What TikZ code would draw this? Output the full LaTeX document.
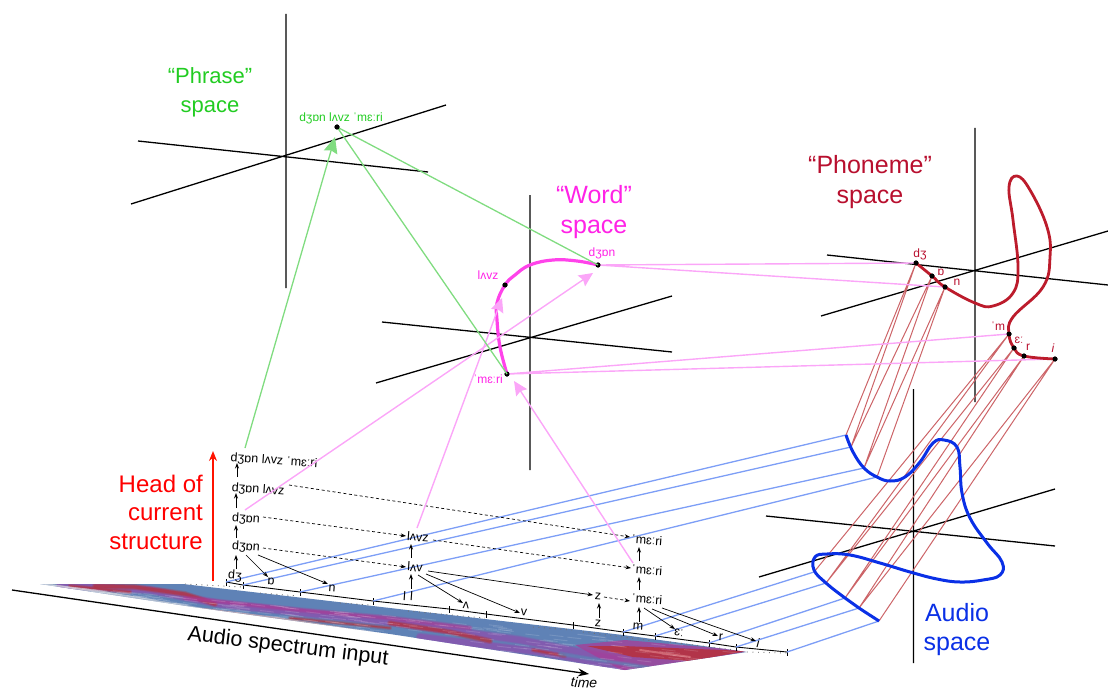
\documentclass[tikz,border=0pt]{standalone}
\usepackage{fontspec}
\setmainfont{Liberation Sans}
\usetikzlibrary{arrows.meta,calc}
\definecolor{cgreen}{HTML}{22CC22}
\definecolor{lgreen}{HTML}{80DC80}
\definecolor{cmag}{HTML}{FF22E6}
\definecolor{lmag}{HTML}{FBA6F8}
\definecolor{ccrim}{HTML}{B80F2E}
\definecolor{ccurve}{HTML}{BC1C2C}
\definecolor{lred}{HTML}{CC6468}
\definecolor{cblue}{HTML}{0A30E6}
\definecolor{lblue}{HTML}{7D9EF6}
\definecolor{sblue}{HTML}{5F82B6}
\definecolor{spur}{HTML}{8C50AE}
\definecolor{sred}{HTML}{B8303A}
\definecolor{smag}{HTML}{A83C98}
\tikzset{
  axisline/.style={line width=1.3pt,black},
  biglabel/.style={font=\fontsize{25}{29.5}\selectfont,align=center,inner sep=0pt},
  smalllabel/.style={font=\fontsize{12}{14}\selectfont,inner sep=0pt},
  tree/.style={font=\fontsize{12.5}{14}\selectfont,inner sep=0pt,rotate=-4},
  up/.style={line width=.7pt,-{Stealth[length=5.5pt,width=4pt]}},
  dashdown/.style={line width=.7pt,dash pattern=on 3pt off 2.5pt,-{Stealth[length=5.5pt,width=4pt]}},
  ptdot/.style={circle,fill=black,inner sep=0pt,minimum size=5pt},
  pinkline/.style={lmag,line width=1.4pt},
  pinkarrow/.style={lmag,line width=1.4pt,-{Stealth[length=14pt,width=13pt,inset=2pt]}},
  greenline/.style={lgreen,line width=1.3pt},
  blueline/.style={lblue,line width=1.3pt},
  redline/.style={lred,line width=1pt},
  tickmark/.style={line width=.8pt,black},
  dots/.style={line width=.9pt,dash pattern=on .9pt off 4.6pt,black!55},
  band/.style={line cap=round,line join=round},
}
\newcommand{\sband}[3]{\draw[band,#1,line width=#2+3pt,opacity=.25] #3;\draw[band,#1,line width=#2+1.5pt,opacity=.3] #3;\draw[band,#1,line width=#2,opacity=.55] #3;}
\begin{document}
\begin{tikzpicture}[x=1pt,y=-1pt]
\useasboundingbox (0,0) rectangle (1108,690);

% --- axes ---
\coordinate (p1a) at (286,14);\coordinate (p1b) at (286,288);
\coordinate (p2a) at (138,141);\coordinate (p2b) at (428,172);
\coordinate (p3a) at (131,204);\coordinate (p3b) at (446,105);
\draw[axisline] (p1a)--(p1b) (p2a)--(p2b) (p3a)--(p3b);
\coordinate (w1a) at (530,195);\coordinate (w1b) at (530,470);
\coordinate (w2a) at (382,322);\coordinate (w2b) at (672,352);
\coordinate (w3a) at (376,383);\coordinate (w3b) at (672,296);
\draw[axisline] (w1a)--(w1b) (w2a)--(w2b) (w3a)--(w3b);
\coordinate (f1a) at (975,128);\coordinate (f1b) at (975,402);
\coordinate (f2a) at (827,255);\coordinate (f2b) at (1108,285);
\coordinate (f3a) at (821,316);\coordinate (f3b) at (1108,231);
\draw[axisline] (f1a)--(f1b) (f2a)--(f2b) (f3a)--(f3b);
\coordinate (a1a) at (913.5,389);\coordinate (a1b) at (913.5,663);
\coordinate (a2a) at (766,516);\coordinate (a2b) at (1055,546);
\coordinate (a3a) at (759,577);\coordinate (a3b) at (1055,489);
\draw[axisline] (a1a)--(a1b) (a2a)--(a2b) (a3a)--(a3b);

% --- spectrum ---
\begin{scope}
\clip (40,584) -- (183,584) -- (390,608) -- (623,635) -- (747,652) -- (625,670) -- (390,634) -- (193,607) -- cycle;
\fill[sblue] (30,580) rectangle (750,675);
\sband{spur}{6pt}{(60,585) -- (150,590) -- (220,604) -- (390,622) -- (520,640) -- (620,660)}
\sband{spur}{6pt}{(420,637) -- (540,652) -- (625,668)}
\sband{sred}{3pt}{(95,586) -- (135,587) -- (185,594) -- (215,604)}
\sband{sred}{1.5pt}{(70,586) -- (130,592)}
\sband{sred}{1pt}{(290,618) -- (390,628)}
\sband{sred}{3pt}{(390,623) -- (450,632) -- (490,641)}
\sband{sred}{1.5pt}{(533,650) -- (565,656)}
\sband{smag}{2.5pt}{(185,598) -- (300,610) -- (390,618) -- (470,628)}
\fill[smag,opacity=.75] (575,645) -- (625,640) -- (750,651) -- (625,672) -- cycle;
\fill[sred,opacity=.85] (587,646) -- (623,646) -- (747,651) -- (690,661) -- (633,657) -- cycle;
\sband{sblue}{2pt}{(560,654) -- (650,668)}
\draw[band,red!30!white,line width=2pt,opacity=.4] (640,650) -- (690,657);
\draw[band,black!20!white!85!red,line width=3pt,opacity=.7] (200,609) -- (280,619) -- (390,636) -- (412,639);
\draw[band,black!15!white,line width=3pt,opacity=.6] (40,584) -- (100,592) -- (200,609);
\pgfmathsetseed{7}
\foreach \i in {1,...,260}{
  \pgfmathsetmacro{\rx}{40+rnd*700}
  \pgfmathsetmacro{\ry}{584+(\rx-40)*0.09+rnd*(\rx-40)*0.06}
  \draw[white,opacity=.14,line width=.9pt] (\rx,\ry) -- ++(14,1.6);
}
\end{scope}

% --- time axis ---
\coordinate (ta) at (12,590);\coordinate (tb) at (589,674);
\draw[line width=1.3pt,-{Stealth[length=11pt,width=8pt]}] (ta) -- (tb);
\node[font=\fontsize{21.5}{24}\selectfont,rotate=-7,inner sep=0pt] (specl) at (288,647) {Audio spectrum input};
\node[font=\itshape\fontsize{14}{15}\selectfont,rotate=-3,inner sep=0pt] (timel) at (584,682.5) {time};

% --- ticks ---
\coordinate (t1) at (226,582);\coordinate (t2) at (243,585);\coordinate (t3) at (300,592);
\coordinate (t4) at (373,601);\coordinate (t5) at (449,609);\coordinate (t6) at (486,614);
\coordinate (t7) at (573,625);\coordinate (t8) at (623,632);\coordinate (t9) at (655,636);
\coordinate (t10) at (709,643);\coordinate (t11) at (736,647);\coordinate (t12) at (787,652);
\draw[line width=.9pt] (t1)--(t2)--(t3)--(t4)--(t5)--(t6)--(t7)--(t8)--(t9)--(t10)--(t11)--(t12);
\foreach \t in {t1,t2,t3,t4,t5,t6,t7,t8,t9,t10,t11,t12}
  \draw[tickmark] ([yshift=-3.5pt]\t) -- ([yshift=3.5pt]\t);
\coordinate (d0a) at (185,584);\coordinate (d0b) at (242,587);
\coordinate (d1a) at (260,593);\coordinate (d1b) at (298,596);
\coordinate (d2a) at (340,603);\coordinate (d2b) at (371,605);
\coordinate (d3a) at (408,611);\coordinate (d3b) at (485,618);
\coordinate (d4a) at (533,627);\coordinate (d4b) at (572,630);
\coordinate (d5a) at (583,632);\coordinate (d5b) at (654,641);
\coordinate (d6a) at (670,642);\coordinate (d6b) at (735,650);
\coordinate (d7a) at (747,652);\coordinate (d7b) at (787,653);
\draw[dots] (d0a)--(d0b) (d1a)--(d1b) (d2a)--(d2b) (d3a)--(d3b) (d4a)--(d4b) (d5a)--(d5b) (d6a)--(d6b) (d7a)--(d7b);

% --- audio curve points ---
\coordinate (au1) at (846,435);\coordinate (au2) at (851,447);\coordinate (au3) at (864,468);\coordinate (au4) at (877,477);
\coordinate (al1) at (814,572);\coordinate (al2) at (826,583);\coordinate (al3) at (845,598);\coordinate (al4) at (859,608);\coordinate (al5) at (879,621);

% --- blue lines ---
\draw[blueline] (t1)--(au1) (t2)--(au2) (t3)--(au3) (t4)--(au4)
  (t8)--(al1) (t9)--(al2) (t10)--(al3) (t11)--(al4) (t12)--(al5);

% --- points ---
\node[ptdot] (fd) at (916,263) {};
\node[ptdot] (fo) at (932,276) {};
\node[ptdot] (fn) at (945,287) {};
\node[ptdot] (fm) at (1009,334) {};
\node[ptdot] (fe) at (1014,348) {};
\node[ptdot] (fr) at (1024,356) {};
\node[ptdot] (fi) at (1055,359) {};
\node[ptdot] (wj) at (598,265) {};
\node[ptdot] (wl) at (505,285) {};
\node[ptdot] (wm) at (507,374) {};
\node[ptdot] (ph) at (337,127) {};

% --- red lines ---
\draw[redline] (fd.center)--(au1) (fd.center)--(au2) (fo.center)--(au2) (fo.center)--(au3)
  (fn.center)--(au3) (fn.center)--(au4)
  (fm.center)--(al1) (fm.center)--(al2) (fe.center)--(al2) (fe.center)--(al3)
  (fr.center)--(al3) (fr.center)--(al4) (fi.center)--(al4) (fi.center)--(al5);

% --- pink lines ---
\draw[pinkline] (wj.center)--(fd.center) (wj.center)--(fn.center) (wm.center)--(fm.center) (wm.center)--(fi.center);

% --- curves ---
\draw[cblue,line width=3pt,line join=round] plot[smooth,tension=.7] coordinates {(846,435) (853,452) (864,468) (877,477) (890,481) (905,477) (920,462) (933,443) (944,440) (957,447) (960,467) (962,493) (970,518) (987,543) (1002,562) (1000,575) (983,580) (960,582) (937,579) (910,572) (880,563) (850,555) (827,554) (815,557) (814,570) (826,583) (845,598) (859,608) (879,621)};
\draw[ccurve,line width=2.8pt,line join=round] plot[smooth,tension=.7] coordinates {(916,263) (932,276) (945,287) (975,303) (993,306) (1013,293) (1018,267) (1013,220) (1009,187) (1017,176) (1030,190) (1047,227) (1050,257) (1043,287) (1013,317) (1009,334) (1014,348) (1024,356) (1055,359)};
\draw[cmag!85!white,line width=3.2pt,line join=round] plot[smooth,tension=.7] coordinates {(598,265) (577,261) (553,260) (530,265) (515,275) (505,285) (497,303) (497,320) (500,347) (507,374)};
\foreach \p in {fd,fo,fn,fm,fe,fr,fi,wj,wl,wm}
  \fill[black] (\p) circle (2.5pt);

% --- tree nodes ---
\node[tree] (A) at (274,461) {dʒɒn lʌvz ˈmɛːri};
\node[tree] (B) at (258,490) {dʒɒn lʌvz};
\node[tree] (C) at (246,519) {dʒɒn};
\node[tree] (D) at (246,547) {dʒɒn};
\node[tree] (nd) at (235,576) {dʒ};
\node[tree] (no) at (271,581) {ɒ};
\node[tree] (nn) at (332,588) {n};
\node[tree] (G) at (418,537) {lʌvz};
\node[tree] (H) at (415,567) {lʌv};
\node[tree] (nl) at (408,596) {l\,\,l};
\node[tree] (nu) at (466,605) {ʌ};
\node[tree] (nv) at (524,612) {v};
\node[tree] (nzl) at (598,623) {z};
\node[tree] (nzu) at (598,596) {z};
\node[tree] (K) at (647,599) {ˈmɛːri};
\node[tree] (L) at (647,570) {ˈmɛːri};
\node[tree] (M) at (647,540) {ˈmɛːri};
\node[tree] (nm) at (638,627) {m};
\node[tree] (ne) at (679,633) {ɛː};
\node[tree] (nr) at (721,637) {r};
\node[tree] (ni) at (758,643) {\itshape i};

% --- tree arrows ---
\draw[up] ([shift={(1,-7)}]nd.center) -- ([shift={(-10,8)}]D.center);
\draw[up] ([shift={(-10,-9)}]D.center) -- ([shift={(-10,6)}]C.center);
\draw[up] ([shift={(-10,-11)}]C.center) -- ([shift={(-22,3)}]B.center);
\draw[up] ([shift={(-21,-13)}]B.center) -- ([shift={(-37,2)}]A.center);
\draw[up] ([shift={(0,8)}]D.center) -- ([shift={(-3,-4)}]no.center);
\draw[up] ([shift={(12,8)}]D.center) -- ([shift={(-4,-4)}]nn.center);
\draw[up] ([shift={(3,-7)}]nl.center) -- ([shift={(-4,7)}]H.center);
\draw[up] ([shift={(-4,-9)}]H.center) -- ([shift={(-7,7)}]G.center);
\draw[up] ([shift={(3,8)}]H.center) -- ([shift={(-3,-2)}]nu.center);
\draw[up] ([shift={(11,7)}]H.center) -- ([shift={(-4,1)}]nv.center);
\draw[up] ([shift={(13,4)}]H.center) -- ([shift={(-5,-1)}]nzu.center);
\draw[up] ([shift={(1,-5)}]nzl.center) -- ([shift={(1,7)}]nzu.center);
\draw[up] ([shift={(1,-5)}]nm.center) -- ([shift={(-8,8)}]K.center);
\draw[up] ([shift={(-8,-9)}]K.center) -- ([shift={(-8,7)}]L.center);
\draw[up] ([shift={(-8,-9)}]L.center) -- ([shift={(-8,7)}]M.center);
\draw[up] ([shift={(-3,9)}]K.center) -- ([shift={(-4,-4)}]ne.center);
\draw[up] ([shift={(5,10)}]K.center) -- ([shift={(-3,-1)}]nr.center);
\draw[up] ([shift={(15,9)}]K.center) -- ([shift={(-2,-2)}]ni.center);
\draw[dashdown] ([shift={(6,1)}]nzu.center) -- ([shift={(-17,2)}]K.center);
\draw[dashdown] ([shift={(17,1)}]D.center) -- ([shift={(-9,0)}]H.center);
\draw[dashdown] ([shift={(17,-2)}]C.center) -- ([shift={(-12,-1)}]G.center);
\draw[dashdown] ([shift={(15,3)}]G.center) -- ([shift={(-16,-2)}]L.center);
\draw[dashdown] ([shift={(31,-5)}]B.center) -- ([shift={(-17,-3)}]M.center);

% --- pink arrows ---
\draw[pinkarrow] ([shift={(-1,-9)}]C.center) -- ([shift={(-5,8)}]wj.center);
\draw[pinkarrow] ([shift={(-1,-9)}]G.center) -- ([shift={(-3,13)}]wl.center);
\draw[pinkarrow] ([shift={(-14,-7)}]L.center) -- ([shift={(7,7)}]wm.center);

% --- green ---
\draw[greenline] (ph.center)--(wj.center) (ph.center)--(wm.center);
\draw[lgreen,line width=1.3pt,-{Stealth[length=16pt,width=14pt,inset=2pt]}] ([shift={(-29,-13)}]A.center) -- ([shift={(-2,10)}]ph.center);
\fill[black] (ph) circle (2.5pt);

% --- red arrow ---
\coordinate (ra) at (213,581);\coordinate (rb) at (213,451);
\draw[red!85!orange,line width=1.6pt,-{Stealth[length=10pt,width=8pt]}] (ra) -- (rb);

% --- labels ---
\node[biglabel,text=cgreen,font=\fontsize{22}{29}\selectfont] (lphr) at (210,92) {“Phrase”\\space};
\node[biglabel,text=cmag] (lwrd) at (594,212) {“Word”\\space};
\node[biglabel,text=ccrim] (lfon) at (870,182) {“Phoneme”\\space};
\node[biglabel,text=cblue] (laud) at (957,629.5) {Audio\\space};
\node[biglabel,text=red,align=right,anchor=east,font=\fontsize{24}{28.5}\selectfont] (lhead) at (203,512) {Head of\\current\\structure};
\node[smalllabel,text=cgreen] (tphr) at (341,118) {dʒɒn lʌvz ˈmɛːri};
\node[smalllabel,text=cmag] (twj) at (602,253) {dʒɒn};
\node[smalllabel,text=cmag] (twl) at (488,275) {lʌvz};
\node[smalllabel,text=cmag] (twm) at (488,379) {ˈmɛːri};
\node[smalllabel,text=ccrim] (tfd) at (920,254) {dʒ};
\node[smalllabel,text=ccrim] (tfo) at (941,272) {ɒ};
\node[smalllabel,text=ccrim] (tfn) at (957,282) {n};
\node[smalllabel,text=ccrim] (tfm) at (998,326) {ˈm};
\node[smalllabel,text=ccrim] (tfe) at (1019,340) {ɛː};
\node[smalllabel,text=ccrim] (tfr) at (1028,347) {r};
\node[smalllabel,text=ccrim] (tfi) at (1053,348) {\itshape i};
\end{tikzpicture}
\end{document}
